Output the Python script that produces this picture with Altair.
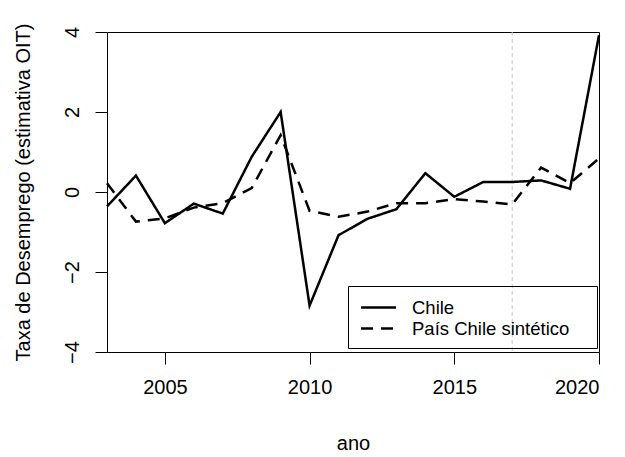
import altair as alt
import pandas as pd

years = list(range(2003, 2021))
chile = [-0.36, 0.41, -0.78, -0.29, -0.54, 0.88, 2.0, -2.84, -1.08, -0.67, -0.43, 0.47, -0.12, 0.25, 0.25, 0.29, 0.08, 3.92]
sintetico = [0.22, -0.74, -0.66, -0.39, -0.28, 0.10, 1.42, -0.47, -0.62, -0.49, -0.28, -0.28, -0.18, -0.24, -0.31, 0.61, 0.22, 0.84]
series_names = ["Chile", "País Chile sintético"]
treatment_year = [2017]
x_ticks = [2005, 2010, 2015, 2020]
y_ticks = [-4, -2, 0, 2, 4]

rows = []
for name, vals in zip(series_names, [chile, sintetico]):
    for yr, v in zip(years, vals):
        rows.append({"ano": yr, "valor": v, "serie": name})
df = pd.DataFrame(rows)
df_rule = pd.DataFrame({"ano": treatment_year})

FONT = "Liberation Sans"
FS = 20

x_enc = alt.X(
    "ano:Q",
    scale=alt.Scale(domain=[2003, 2020], nice=False, zero=False),
    axis=alt.Axis(
        values=x_ticks, format="d", tickSize=12, labelPadding=13,
        labelFontSize=FS, labelColor="black", tickColor="black", domain=False,
        grid=False, title="ano", titleFontSize=FS, titleFontWeight="normal",
        titleColor="black", titleX=246, titleY=97, titleAlign="center",
        titleBaseline="alphabetic",
    ),
)
y_enc = alt.Y(
    "valor:Q",
    scale=alt.Scale(domain=[-4, 4], nice=False, zero=False),
    axis=alt.Axis(
        values=y_ticks, tickSize=12, labelPadding=17, labelAngle=270,
        labelAlign="center", labelBaseline="alphabetic", labelFontSize=FS,
        labelColor="black", tickColor="black", domain=False, grid=False,
        title="Taxa de Desemprego (estimativa OIT)", titleFontSize=FS,
        titleFontWeight="normal", titleColor="black", titleAngle=270,
        titleX=-78, titleY=160, titleAlign="center", titleBaseline="alphabetic",
    ),
)

rule = alt.Chart(df_rule).mark_rule(color="#c4c4c4", strokeWidth=1, strokeDash=[4, 3]).encode(
    x=alt.X("ano:Q", scale=alt.Scale(domain=[2003, 2020], nice=False, zero=False))
)

lines = alt.Chart(df).mark_line(color="black", strokeWidth=2.5).encode(
    x=x_enc,
    y=y_enc,
    strokeDash=alt.StrokeDash(
        "serie:N",
        scale=alt.Scale(domain=series_names, range=[[1, 0], [12, 8]]),
        sort=series_names,
        legend=alt.Legend(
            title="\u00a0", titleOrient="right", titlePadding=18, titleFontSize=4,
            orient="none", legendX=241, legendY=254,
            padding=10, strokeColor="black", symbolType="M-1.75,0H1.75",
            symbolSize=400, symbolStrokeWidth=2.5, symbolStrokeColor="black",
            symbolOffset=9, labelLimit=400,
            labelFontSize=18.5, labelColor="black", labelOffset=22, rowPadding=0,
        ),
    ),
)

chart = alt.layer(rule, lines).properties(
    width=492, height=320,
    autosize=alt.AutoSizeParams(type="none"),
    padding={"left": 99, "top": 24, "right": 18, "bottom": 105},
).configure(font=FONT, background="white").configure_view(
    stroke="black", strokeWidth=1
)

chart.save("out.html", embed_options={"renderer": "svg", "actions": False})
